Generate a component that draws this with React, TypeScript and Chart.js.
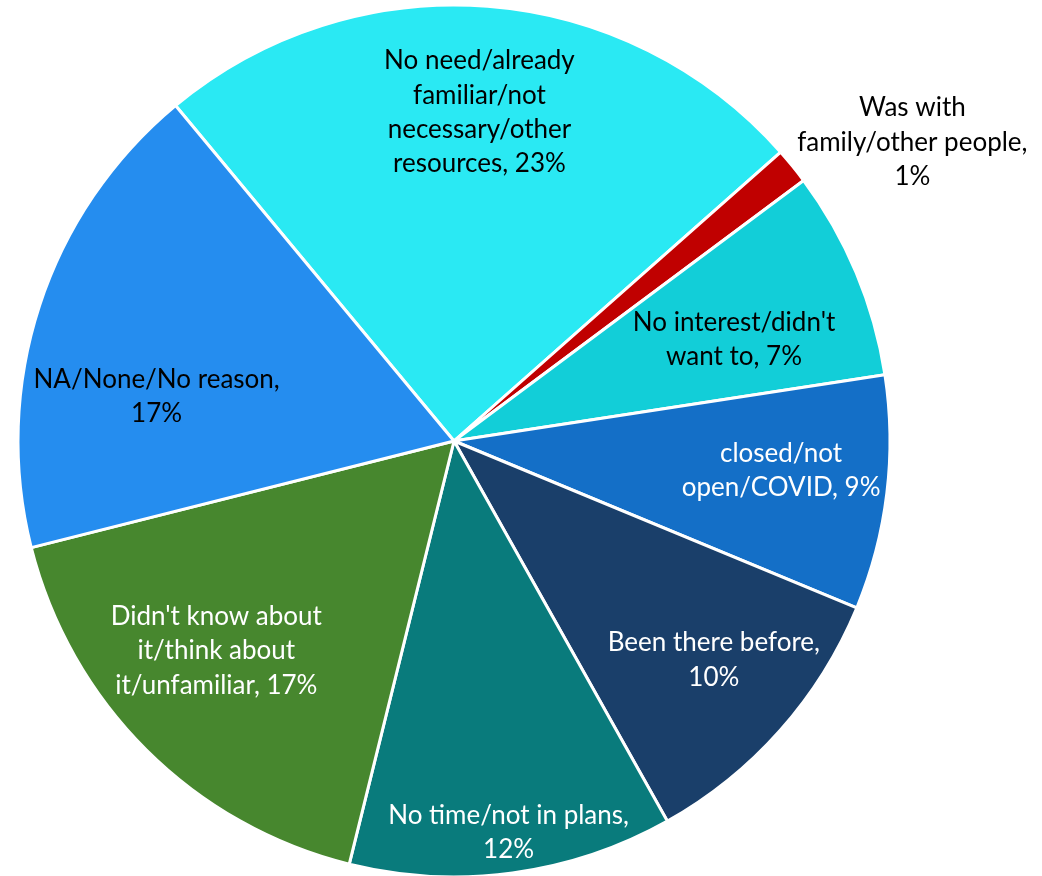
import React, { useEffect, useRef } from "react";
import { Chart, registerables } from "chart.js";

Chart.register(...registerables);

const categories = [
  "No need/already familiar/not necessary/other resources",
  "Was with family/other people",
  "No interest/didn't want to",
  "closed/not open/COVID",
  "Been there before",
  "No time/not in plans",
  "Didn't know about it/think about it/unfamiliar",
  "NA/None/No reason",
];

const values = [24.5, 1.33, 7.76, 8.68, 10.6, 12.0, 17.2, 17.9];

const labelLines = [
  ["No need/already", "familiar/not", "necessary/other", "resources, 23%"],
  ["Was with", "family/other people,", "1%"],
  ["No interest/didn't", "want to, 7%"],
  ["closed/not", "open/COVID, 9%"],
  ["Been there before,", "10%"],
  ["No time/not in plans,", "12%"],
  ["Didn't know about", "it/think about", "it/unfamiliar, 17%"],
  ["NA/None/No reason,", "17%"],
];

const sliceColors = [
  "#2AE9F3",
  "#C00000",
  "#12CED8",
  "#146FC7",
  "#1A3F6A",
  "#097B7C",
  "#47872E",
  "#258DEF",
];

const labelColors = ["#000000", "#000000", "#000000", "#FFFFFF", "#FFFFFF", "#FFFFFF", "#FFFFFF", "#000000"];

// label placement: angular shift (deg) from slice mid-angle, and radial fraction of the radius
const labelAngleShift = [0.0, 5.9, 2.6, -1.9, -1.6, -0.25, 3.8, -9.4];
const labelRadiusFrac = [0.758, 1.256, 0.684, 0.753, 0.778, 0.905, 0.726, 0.69];

const labelPlugin = {
  id: "sliceLabels",
  afterDatasetsDraw(chart: any) {
    const ctx = chart.ctx;
    const meta = chart.getDatasetMeta(0);
    ctx.save();
    ctx.font = "26px Lato, 'Open Sans', sans-serif";
    ctx.textAlign = "center";
    ctx.textBaseline = "middle";
    const lineH = 34.3;
    meta.data.forEach((arc: any, i: number) => {
      const { x, y, startAngle, endAngle, outerRadius } = arc.getProps(
        ["x", "y", "startAngle", "endAngle", "outerRadius"],
        true
      );
      const mid = (startAngle + endAngle) / 2 + (labelAngleShift[i] * Math.PI) / 180;
      const r = outerRadius * labelRadiusFrac[i];
      const cx = x + Math.cos(mid) * r;
      const cy = y + Math.sin(mid) * r;
      const lines = labelLines[i];
      ctx.fillStyle = labelColors[i];
      lines.forEach((ln, j) => {
        ctx.fillText(ln, cx, cy + 1 + (j - (lines.length - 1) / 2) * lineH);
      });
    });
    ctx.restore();
  },
};

export default function App() {
  const ref = useRef<HTMLCanvasElement | null>(null);
  useEffect(() => {
    if (!ref.current) return;
    const chart = new Chart(ref.current, {
      type: "pie",
      data: {
        labels: categories,
        datasets: [
          {
            data: values,
            backgroundColor: sliceColors,
            borderColor: "#FFFFFF",
            borderWidth: 3,
          },
        ],
      },
      options: {
        responsive: false,
        animation: false,
        rotation: -39.7,
        radius: 436,
        layout: { padding: { left: 0, right: 134, top: 6, bottom: 0 } },
        plugins: {
          legend: { display: false },
          tooltip: { enabled: false },
        },
      },
      plugins: [labelPlugin],
    });
    return () => chart.destroy();
  }, []);
  return (
    <div style={{ position: "absolute", left: 0, top: 0, width: 1042, height: 876, background: "#FFFFFF" }}>
      <canvas ref={ref} width={1042} height={876} />
    </div>
  );
}
